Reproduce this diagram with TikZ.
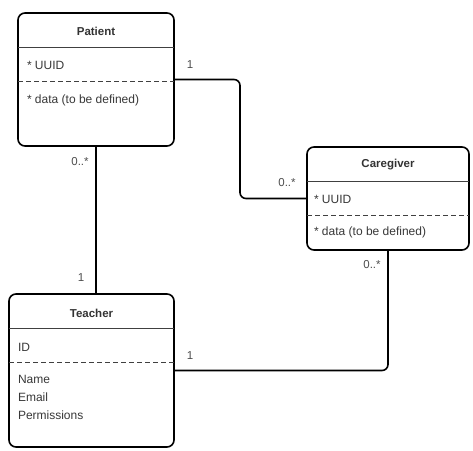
\documentclass[tikz,border=0pt]{standalone}
\usepackage{fontspec}
\setmainfont{Liberation Sans}
\begin{document}
\begin{tikzpicture}[x=1pt,y=-1pt,
  every node/.style={inner sep=0pt, outer sep=0pt},
  classbox/.style={draw=black, line width=1.6pt, rounded corners=7pt, fill=white, minimum width=#1},
  titletext/.style={font=\bfseries\fontsize{11.5}{13}\selectfont, text=black!80},
  attrtext/.style={font=\fontsize{12}{18}\selectfont, text=black!78, anchor=west, align=left},
  multtext/.style={font=\fontsize{11.5}{13}\selectfont, text=black!70},
  titlesep/.style={draw=black!75, line width=0.9pt},
  dashsep/.style={draw=black!75, line width=0.9pt, dash pattern=on 5pt off 3pt},
  link/.style={draw=black, line width=1.6pt, rounded corners=6pt}]
\useasboundingbox (0,0) rectangle (473,450);

% class boxes
\node[classbox=156pt, minimum height=133pt] (patient) at (96,79.5) {};
\node[classbox=162pt, minimum height=103pt] (caregiver) at (388,198.5) {};
\node[classbox=165pt, minimum height=153pt] (teacher) at (91.5,370.5) {};

% Patient compartments
\draw[titlesep] (patient.west |- 0,47) -- (patient.east |- 0,47);
\draw[dashsep] (patient.west |- 0,81) -- (patient.east |- 0,81);
\node[titletext] (ptitle) at (96,31) {Patient};
\node[attrtext] (pid) at (27,65) {* UUID};
\node[attrtext] (pdata) at (27,100) {* data (to be defined)};

% Caregiver compartments
\draw[titlesep] (caregiver.west |- 0,181) -- (caregiver.east |- 0,181);
\draw[dashsep] (caregiver.west |- 0,215) -- (caregiver.east |- 0,215);
\node[titletext] (ctitle) at (388,165) {Caregiver};
\node[attrtext] (cid) at (314,199) {* UUID};
\node[attrtext] (cdata) at (314,232) {* data (to be defined)};

% Teacher compartments
\draw[titlesep] (teacher.west |- 0,328) -- (teacher.east |- 0,328);
\draw[dashsep] (teacher.west |- 0,362) -- (teacher.east |- 0,362);
\node[titletext] (ttitle) at (91.5,313) {Teacher};
\node[attrtext] (tid) at (18,347) {ID};
\node[attrtext, anchor=north west] (tattrs) at (18,375) {Name\\Email\\Permissions};

% associations
\draw[link] (patient.east) -- ++(66,0) |- (caregiver.west);
\draw[link] (patient.south) -- (patient.south |- teacher.north);
\draw[link] (teacher.east) -| (caregiver.south);

% multiplicities
\node[multtext] (m1) at (190,65) {1};
\node[multtext] (m2) at (287,183) {0..*};
\node[multtext] (m3) at (80,162) {0..*};
\node[multtext] (m4) at (81,278) {1};
\node[multtext] (m5) at (190,356) {1};
\node[multtext] (m6) at (372,265) {0..*};
\end{tikzpicture}
\end{document}
